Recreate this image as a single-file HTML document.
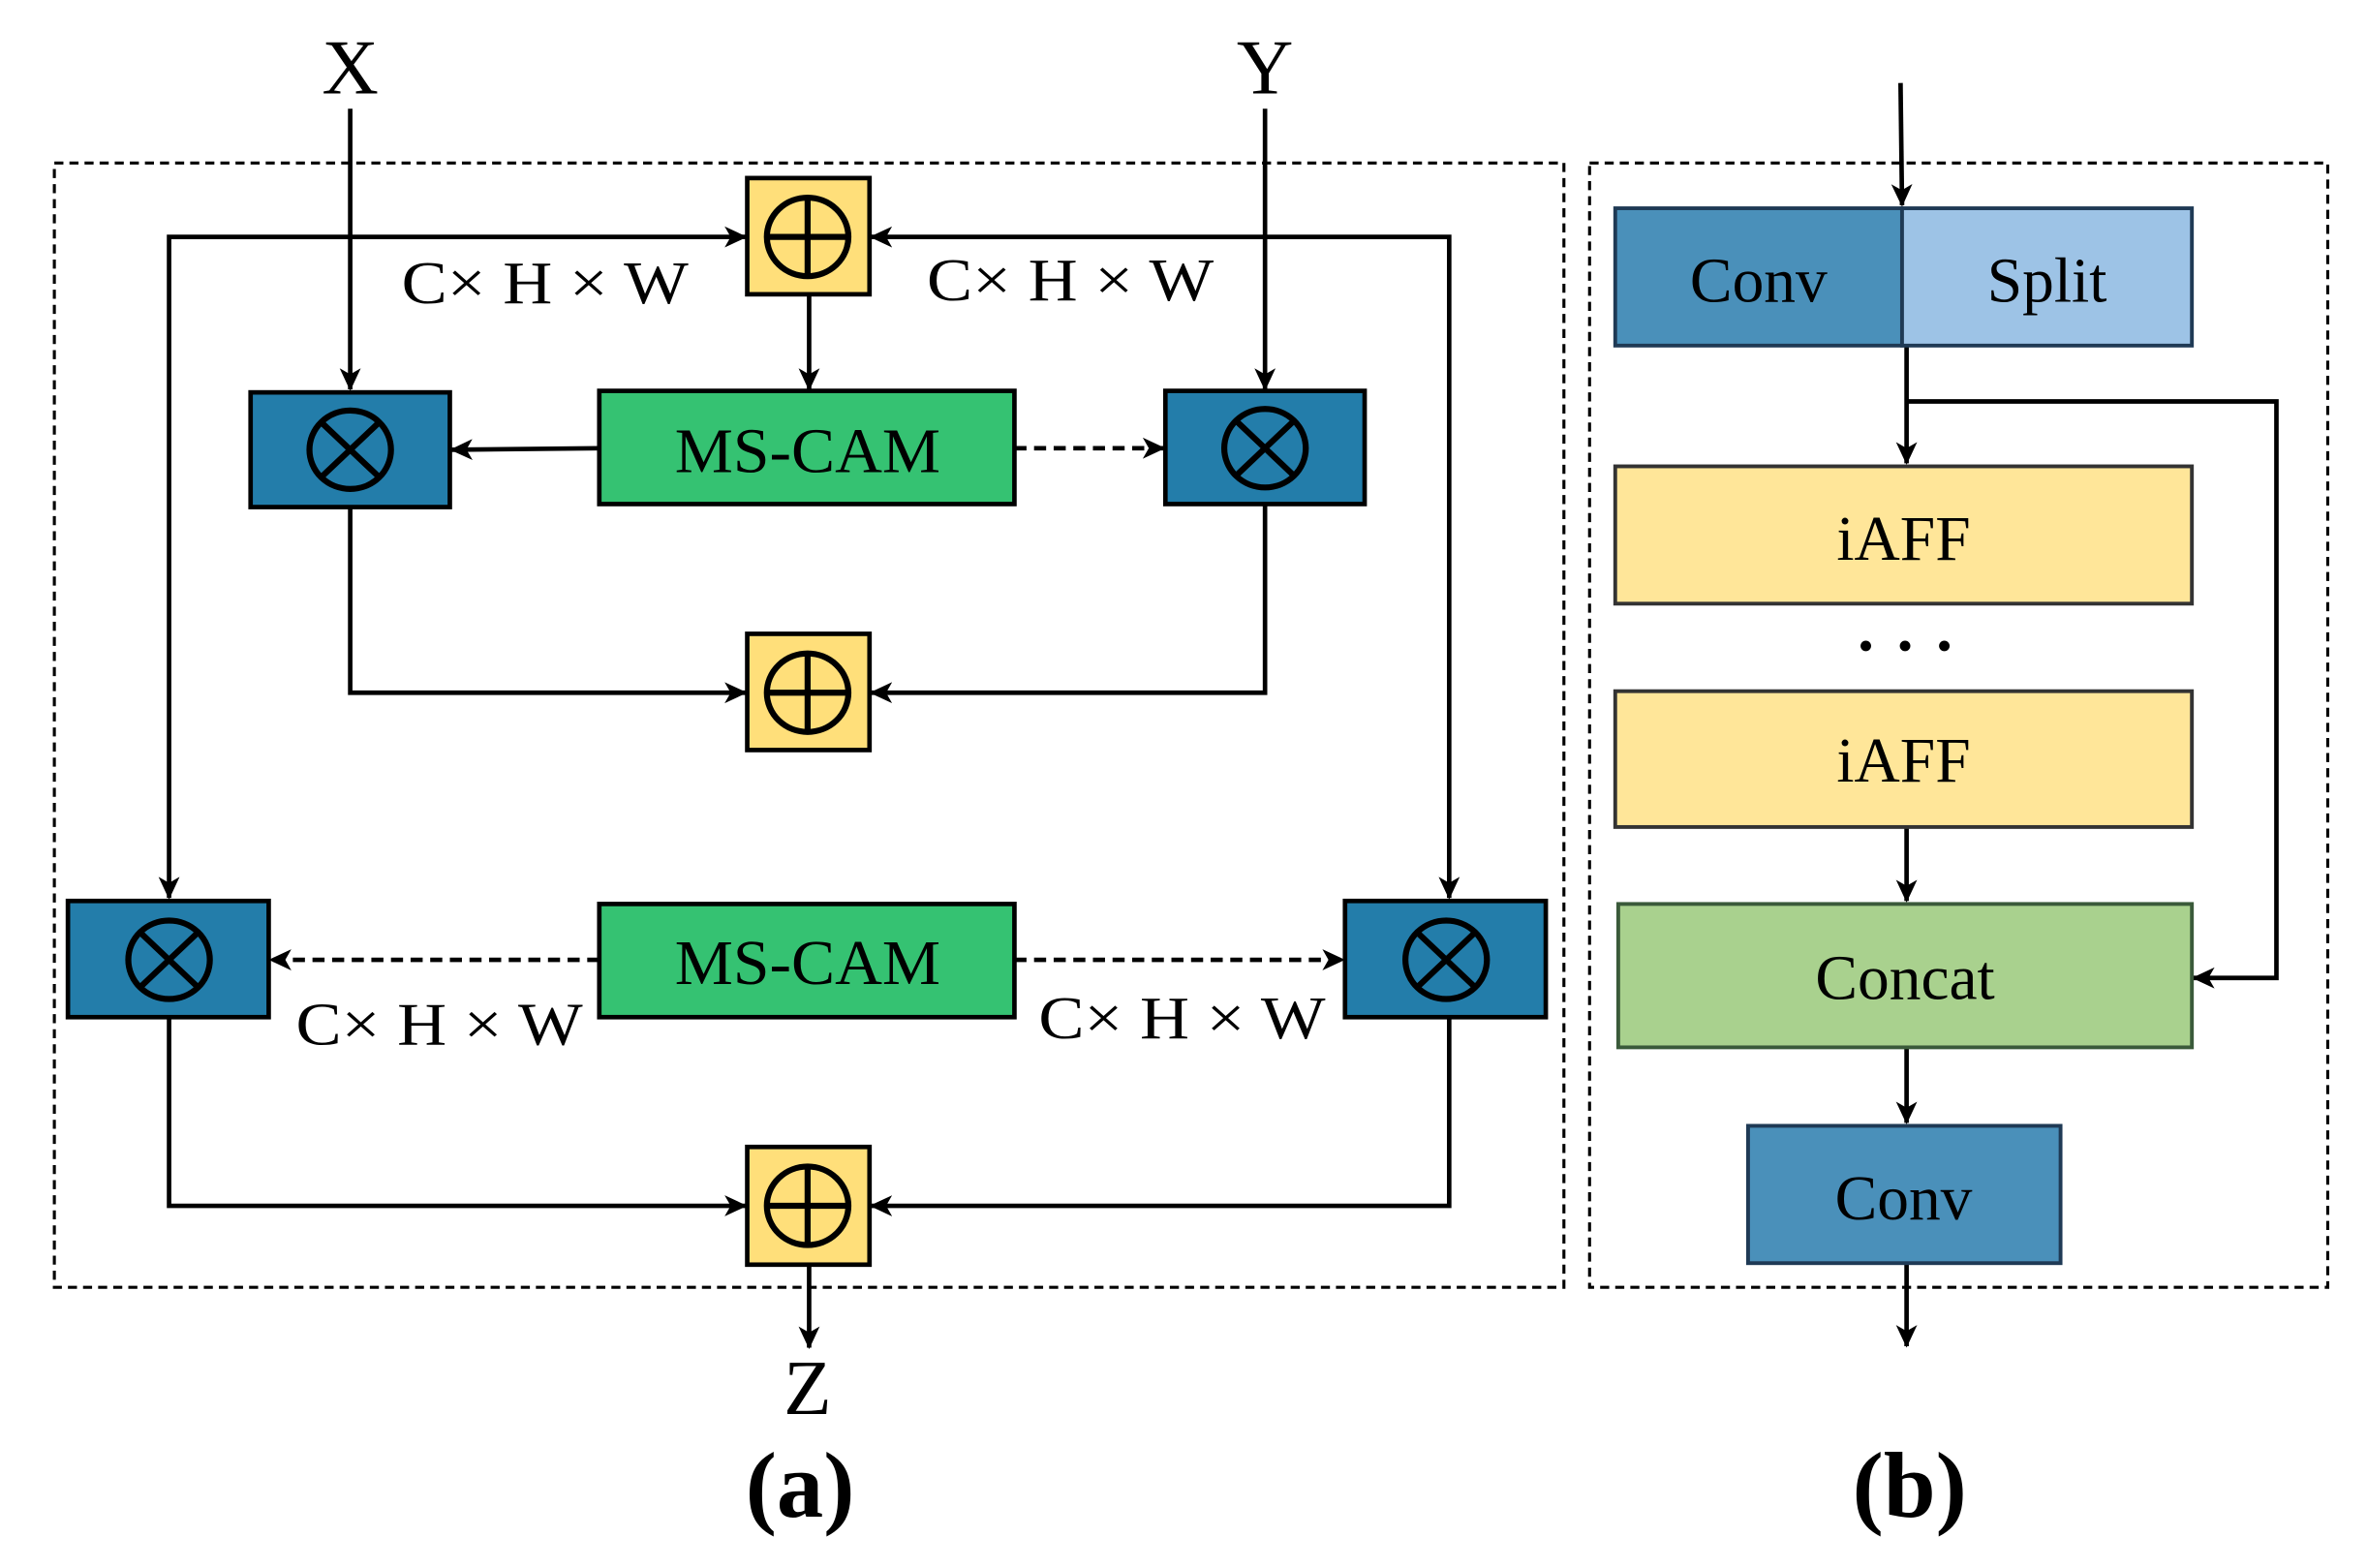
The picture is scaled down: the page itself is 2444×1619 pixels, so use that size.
<!DOCTYPE html>
<html><head><meta charset="utf-8"><style>html,body{margin:0;padding:0;background:#fff}svg{display:block}</style></head><body>
<svg width="2444" height="1619" viewBox="0 0 1568 1039" preserveAspectRatio="none" xmlns="http://www.w3.org/2000/svg" font-family="Liberation Serif, serif">
<defs>
<marker id="b" markerWidth="16" markerHeight="16" refX="14" refY="8" orient="auto-start-reverse" markerUnits="userSpaceOnUse"><path d="M0,1 L15,8 L0,15 L4,8 z" fill="#000"/></marker></defs>
<g fill="none" stroke="#000" stroke-width="2" stroke-dasharray="6,4">
<rect x="36" y="108" width="1000" height="745"/><rect x="1053" y="108" width="489" height="745"/></g>
<g stroke="#000" stroke-width="3" fill="none">
<line x1="232" y1="72" x2="232" y2="258" marker-end="url(#b)"/>
<line x1="838" y1="72" x2="838" y2="258" marker-end="url(#b)"/>
<polyline points="112,595 112,157 494,157" marker-start="url(#b)" marker-end="url(#b)"/>
<polyline points="960,595 960,157 577,157" marker-start="url(#b)" marker-end="url(#b)"/>
<line x1="536" y1="195" x2="536" y2="258" marker-end="url(#b)"/>
<line x1="397" y1="297" x2="299" y2="298" marker-end="url(#b)"/>
<line x1="672" y1="297" x2="771" y2="297" stroke-dasharray="8,5" marker-end="url(#b)"/>
<polyline points="232,336 232,459 494,459" marker-end="url(#b)"/>
<polyline points="838,334 838,459 577,459" marker-end="url(#b)"/>
<line x1="397" y1="636" x2="179" y2="636" stroke-dasharray="8,5" marker-end="url(#b)"/>
<line x1="672" y1="636" x2="890" y2="636" stroke-dasharray="8,5" marker-end="url(#b)"/>
<polyline points="112,674 112,799 494,799" marker-end="url(#b)"/>
<polyline points="960,674 960,799 577,799" marker-end="url(#b)"/>
<line x1="536" y1="838" x2="536" y2="893" marker-end="url(#b)"/>
<line x1="1259" y1="55" x2="1260" y2="136" marker-end="url(#b)"/>
<line x1="1263" y1="229" x2="1263" y2="307" marker-end="url(#b)"/>
<polyline points="1263,266 1508,266 1508,648 1453,648" marker-end="url(#b)"/>
<line x1="1263" y1="548" x2="1263" y2="597" marker-end="url(#b)"/>
<line x1="1263" y1="694" x2="1263" y2="744" marker-end="url(#b)"/>
<line x1="1263" y1="837" x2="1263" y2="892" marker-end="url(#b)"/>
</g>
<g stroke="#000" stroke-width="3">
<rect x="495" y="118" width="81" height="77" fill="#FFDF7A"/>
<rect x="495" y="420" width="81" height="77" fill="#FFDF7A"/>
<rect x="495" y="760" width="81" height="78" fill="#FFDF7A"/>
<rect x="166" y="260" width="132" height="76" fill="#237DAA"/>
<rect x="772" y="259" width="132" height="75" fill="#237DAA"/>
<rect x="45" y="597" width="133" height="77" fill="#237DAA"/>
<rect x="891" y="597" width="133" height="77" fill="#237DAA"/>
<rect x="397" y="259" width="275" height="75" fill="#35C272"/>
<rect x="397" y="599" width="275" height="75" fill="#35C272"/>
</g>
<g stroke="#1f3a55" stroke-width="2.5">
<rect x="1070" y="138" width="190" height="91" fill="#4A90BA"/>
<rect x="1260" y="138" width="192" height="91" fill="#9DC3E6"/>
<rect x="1158" y="746" width="207" height="91" fill="#4A90BA"/>
</g>
<g stroke="#333" stroke-width="2.5">
<rect x="1070" y="309" width="382" height="91" fill="#FFE699"/>
<rect x="1070" y="458" width="382" height="90" fill="#FFE699"/>
<rect x="1072" y="599" width="380" height="95" fill="#A9D18E" stroke="#3a5a3a"/>
</g>
<g fill="none" stroke="#000" stroke-width="4">
<ellipse cx="535" cy="157" rx="27" ry="26"/><line x1="508" y1="157" x2="562" y2="157"/><line x1="535" y1="131" x2="535" y2="183"/>
<ellipse cx="535" cy="459" rx="27" ry="26"/><line x1="508" y1="459" x2="562" y2="459"/><line x1="535" y1="433" x2="535" y2="485"/>
<ellipse cx="535" cy="799" rx="27" ry="26"/><line x1="508" y1="799" x2="562" y2="799"/><line x1="535" y1="773" x2="535" y2="825"/>
<ellipse cx="232" cy="298" rx="27" ry="26"/><line x1="213" y1="280" x2="251" y2="316"/><line x1="251" y1="280" x2="213" y2="316"/>
<ellipse cx="838" cy="297" rx="27" ry="26"/><line x1="819" y1="279" x2="857" y2="315"/><line x1="857" y1="279" x2="819" y2="315"/>
<ellipse cx="112" cy="636" rx="27" ry="26"/><line x1="93" y1="618" x2="131" y2="654"/><line x1="131" y1="618" x2="93" y2="654"/>
<ellipse cx="958" cy="636" rx="27" ry="26"/><line x1="939" y1="618" x2="977" y2="654"/><line x1="977" y1="618" x2="939" y2="654"/>
</g>
<g fill="#000">
<text x="232" y="62" font-size="52" text-anchor="middle">X</text>
<text x="838" y="62" font-size="52" text-anchor="middle">Y</text>
<text x="535" y="937" font-size="52" text-anchor="middle">Z</text>
<text x="266" y="201" font-size="40" textLength="190" lengthAdjust="spacingAndGlyphs">C× H × W</text>
<text x="614" y="199" font-size="40" textLength="190" lengthAdjust="spacingAndGlyphs">C× H × W</text>
<text x="196" y="692" font-size="40" textLength="190" lengthAdjust="spacingAndGlyphs">C× H × W</text>
<text x="688" y="688" font-size="40" textLength="190" lengthAdjust="spacingAndGlyphs">C× H × W</text>
<text x="447" y="313" font-size="42" textLength="176" lengthAdjust="spacingAndGlyphs">MS-CAM</text>
<text x="447" y="652" font-size="42" textLength="176" lengthAdjust="spacingAndGlyphs">MS-CAM</text>
</g>
<g fill="#000" text-anchor="middle">
<text x="1165" y="200" font-size="42">Conv</text>
<text x="1356" y="200" font-size="42">Split</text>
<text x="1261" y="371" font-size="42">iAFF</text>
<text x="1261" y="518" font-size="42">iAFF</text>
<text x="1262" y="662" font-size="42">Concat</text>
<text x="1261" y="808" font-size="42">Conv</text>
<text x="530" y="1005" font-size="62" font-weight="bold">(a)</text>
<text x="1265" y="1005" font-size="62" font-weight="bold">(b)</text>
<circle cx="1236" cy="428" r="3.5"/><circle cx="1262" cy="428" r="3.5"/><circle cx="1288" cy="428" r="3.5"/>
</g>
</svg>
</body></html>
